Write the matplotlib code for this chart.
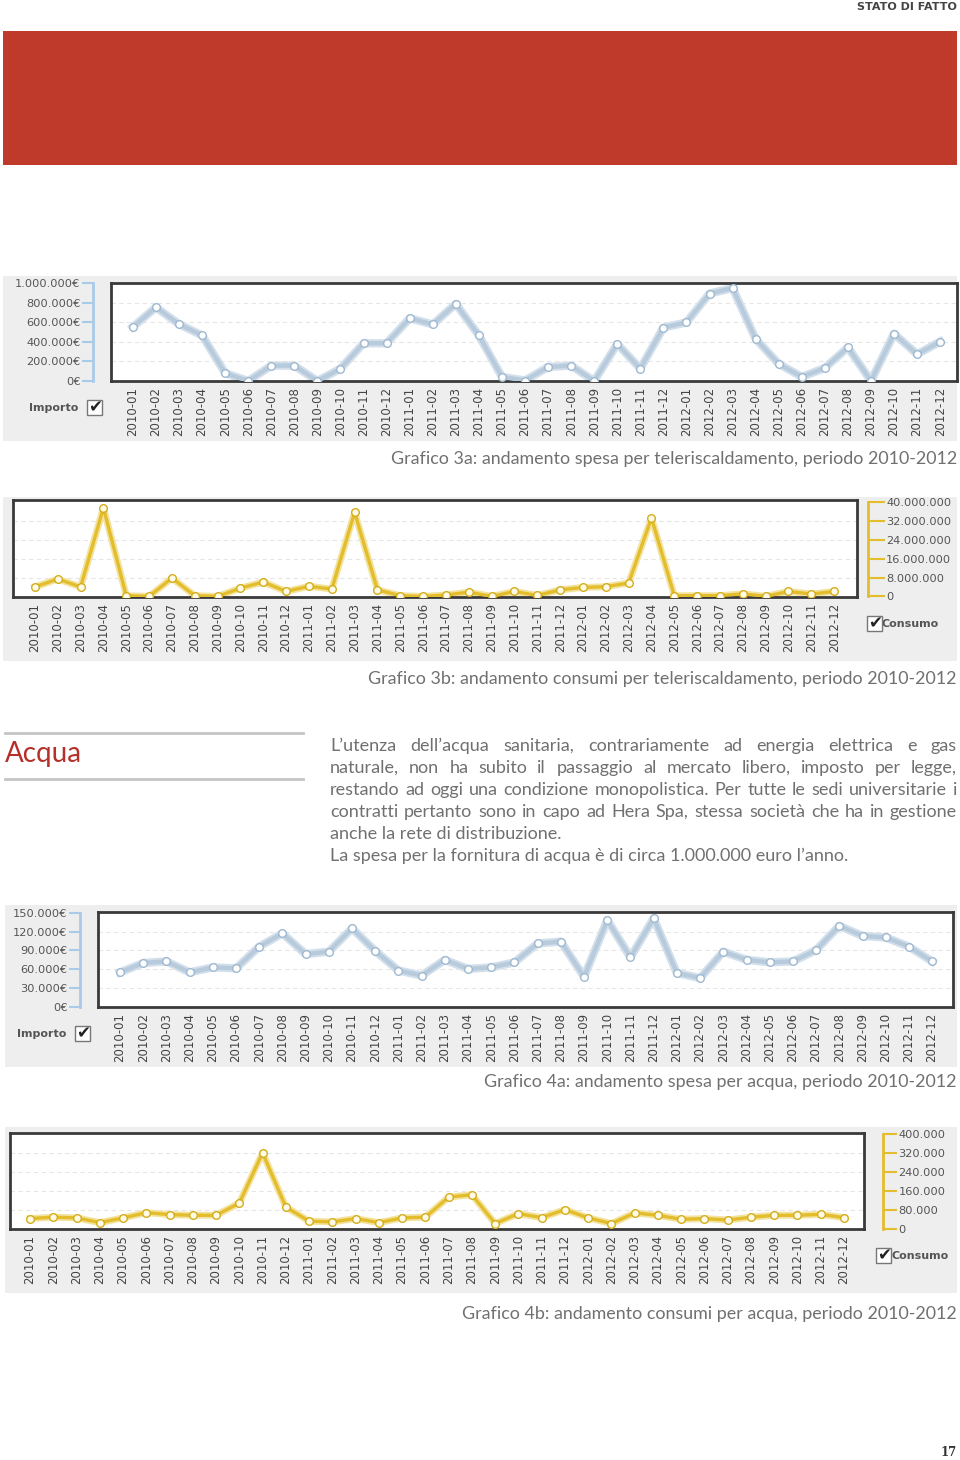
import matplotlib
matplotlib.use('Agg')
import matplotlib.pyplot as plt
from matplotlib.patches import Rectangle
from matplotlib.lines import Line2D

W, H = 960, 1460

# tick labels of the month axis
years = [2010, 2011, 2012]
months = [f'{y}-{m:02d}' for y in years for m in range(1, 13)]

# Grafico 3a: spesa teleriscaldamento (euro)
spesa_teleris = [552000, 752000, 580000, 465000, 80000, 0, 157000, 157000, 0, 126000, 385000, 385000,
                 640000, 577000, 787000, 465000, 42000, 5000, 143000, 157000, 0, 378000, 126000, 545000,
                 598000, 892000, 948000, 430000, 175000, 42000, 133000, 343000, 0, 483000, 273000, 402000]
# Grafico 3b: consumi teleriscaldamento
consumi_teleris = [4.0e6, 7.4e6, 4.0e6, 37.6e6, 0.3e6, 0.0, 7.8e6, 0.3e6, 0.0, 3.5e6, 6.1e6, 2.1e6,
                   4.3e6, 3.1e6, 35.7e6, 2.8e6, 0.3e6, 0.0, 0.6e6, 1.8e6, 0.0, 2.1e6, 0.4e6, 2.8e6,
                   3.8e6, 4.1e6, 5.7e6, 33.3e6, 0.3e6, 0.3e6, 0.3e6, 1.1e6, 0.0, 2.1e6, 1.0e6, 2.1e6]
# Grafico 4a: spesa acqua (euro)
spesa_acqua = [55000, 70000, 72500, 55000, 63000, 61500, 96000, 117000, 84000, 88000, 125000, 89000,
               58000, 50000, 75000, 60500, 63000, 71000, 101000, 104000, 48000, 138000, 79000, 141000,
               54000, 46000, 88000, 75000, 71000, 72500, 90500, 129000, 113000, 110500, 96000, 72500]
# Grafico 4b: consumi acqua
consumi_acqua = [42000, 48000, 45000, 25000, 45000, 67000, 59000, 56000, 56000, 108000, 320000, 91000,
                 31000, 28000, 42000, 25000, 45000, 48000, 133000, 143000, 21000, 63000, 46000, 80000,
                 45000, 21000, 66000, 56000, 39000, 42000, 36000, 48000, 56000, 56000, 60000, 46000]

ticks_3a = [0, 200000, 400000, 600000, 800000, 1000000]
labels_3a = ['0€', '200.000€', '400.000€', '600.000€', '800.000€', '1.000.000€']
ticks_3b = [0, 8e6, 16e6, 24e6, 32e6, 40e6]
labels_3b = ['0', '8.000.000', '16.000.000', '24.000.000', '32.000.000', '40.000.000']
ticks_4a = [0, 30000, 60000, 90000, 120000, 150000]
labels_4a = ['0€', '30.000€', '60.000€', '90.000€', '120.000€', '150.000€']
ticks_4b = [0, 80000, 160000, 240000, 320000, 400000]
labels_4b = ['0', '80.000', '160.000', '240.000', '320.000', '400.000']

captions = ['Grafico 3a: andamento spesa per teleriscaldamento, periodo 2010-2012',
            'Grafico 3b: andamento consumi per teleriscaldamento, periodo 2010-2012',
            'Grafico 4a: andamento spesa per acqua, periodo 2010-2012',
            'Grafico 4b: andamento consumi per acqua, periodo 2010-2012']

body_lines = ['L’utenza dell’acqua sanitaria, contrariamente ad energia elettrica e gas',
              'naturale, non ha subito il passaggio al mercato libero, imposto per legge,',
              'restando ad oggi una condizione monopolistica. Per tutte le sedi universitarie i',
              'contratti pertanto sono in capo ad Hera Spa, stessa società che ha in gestione',
              'anche la rete di distribuzione.',
              'La spesa per la fornitura di acqua è di circa 1.000.000 euro l’anno.']

BLUE_LINE = '#b7cbdd'
BLUE_EDGE = '#9fb9d1'
BLUE_AXIS = '#a9cbea'
GOLD_LINE = '#e3bd2c'
GOLD_EDGE = '#d4ad1c'
TEXT_GREY = '#555555'


def px_rect(x0, y0, x1, y1):
    return [x0 / W, 1 - y1 / H, (x1 - x0) / W, (y1 - y0) / H]


def fx(x):
    return x / W


def fy(y):
    return 1 - y / H


fig = plt.figure(figsize=(W / 100, H / 100), dpi=100)
fig.patch.set_facecolor('white')


def add_rect(x0, y0, x1, y1, z=-5, **kw):
    r = Rectangle((fx(x0), fy(y1)), (x1 - x0) / W, (y1 - y0) / H,
                  transform=fig.transFigure, zorder=z, **kw)
    fig.add_artist(r)


def checkbox(x0, y0, label, label_side):
    add_rect(x0, y0, x0 + 15, y0 + 15, z=5, fc='white', ec='#777777', lw=1)
    fig.text(fx(x0 + 8), fy(y0 + 7), '✔', fontsize=12, color='#222222',
             ha='center', va='center', family='DejaVu Sans', zorder=6)
    if label_side == 'left':
        fig.text(fx(x0 - 9), fy(y0 + 8), label, fontsize=8, fontweight='bold',
                 color='#555555', ha='right', va='center', family='DejaVu Sans')
    else:
        fig.text(fx(x0 + 15), fy(y0 + 8), label, fontsize=8, fontweight='bold',
                 color='#555555', ha='left', va='center', family='DejaVu Sans')


def draw_chart(box, xlim, ylim, values, kind, scale_x, side, ticks, ticklabels, tick_len):
    ax = fig.add_axes(px_rect(*box))
    ax.set_facecolor('white')
    x = list(range(len(values)))
    if kind == 'blue':
        ax.plot(x, values, color='#d3dfea', lw=6, solid_joinstyle='round', zorder=2)
        ax.plot(x, values, color=BLUE_LINE, lw=3.2, marker='o', ms=5.5,
                mfc='white', mec=BLUE_EDGE, mew=1, zorder=3)
    else:
        ax.plot(x, values, color='#f3e3a0', lw=5, solid_joinstyle='round', zorder=2)
        ax.plot(x, values, color=GOLD_LINE, lw=2.4, marker='o', ms=5.5,
                mfc='#fffbe6', mec=GOLD_EDGE, mew=1, zorder=3)
    ax.set_xlim(*xlim)
    ax.set_ylim(*ylim)
    for t in ticks[1:-1]:
        ax.axhline(t, color='#e6e6e6', lw=0.8, ls=(0, (4, 3)), zorder=1)
    ax.set_yticks([])
    ax.set_xticks(x)
    ax.set_xticklabels(months, rotation=90, fontsize=8.5, color='#444444',
                       family='DejaVu Sans')
    ax.tick_params(axis='x', length=0, pad=4.5)
    for s in ax.spines.values():
        s.set_color('#3a3a3a')
        s.set_linewidth(2)

    # separate value scale beside the box
    sa = fig.add_axes(px_rect(scale_x, box[1], scale_x + 0.01, box[3]))
    sa.set_ylim(*ylim)
    sa.set_xticks([])
    sa.patch.set_alpha(0)
    for s in sa.spines.values():
        s.set_visible(False)
    color = BLUE_AXIS if kind == 'blue' else GOLD_LINE
    sa.spines[side].set_visible(True)
    sa.spines[side].set_color(color)
    sa.spines[side].set_linewidth(2)
    sa.spines[side].set_bounds(ticks[0], ticks[-1])
    sa.yaxis.set_ticks_position(side)
    sa.set_yticks(ticks)
    sa.set_yticklabels(ticklabels, fontsize=8.2, color=TEXT_GREY, family='DejaVu Sans')
    sa.tick_params(axis='y', length=tick_len, width=1.5, color=color, pad=1)
    return ax


# header and red banner
fig.text(fx(957), fy(7), 'STATO DI FATTO', fontsize=8, fontweight='bold', color='#444444',
         ha='right', va='center', family='DejaVu Sans')
add_rect(3, 31, 957, 165, fc='#bf3a2b', ec='none')

# panels
add_rect(3, 276, 957, 441, fc='#eeeeee', ec='none')
add_rect(3, 497, 957, 661, fc='#eeeeee', ec='none')
add_rect(5, 905, 957, 1067, fc='#eeeeee', ec='none')
add_rect(5, 1127, 957, 1293, fc='#eeeeee', ec='none')

# Grafico 3a
draw_chart((111, 283, 957, 381), (-0.95, 35.73), (0, 1000000), spesa_teleris, 'blue',
           93, 'left', ticks_3a, labels_3a, 8)
checkbox(87, 400, 'Importo', 'left')

# Grafico 3b
draw_chart((13, 500, 857, 597), (-0.96, 36.0), (-0.25e6, 40.9e6), consumi_teleris, 'gold',
           868, 'right', ticks_3b, labels_3b, 12)
checkbox(867, 616, 'Consumo', 'right')

# Grafico 4a
draw_chart((98, 912, 953, 1007), (-0.95, 35.9), (0, 151000), spesa_acqua, 'blue',
           80, 'left', ticks_4a, labels_4a, 8)
checkbox(75, 1026, 'Importo', 'left')

# Grafico 4b
draw_chart((10, 1133, 864, 1229), (-0.86, 35.86), (-2000, 404000), consumi_acqua, 'gold',
           883, 'right', ticks_4b, labels_4b, 10)
checkbox(876, 1248, 'Consumo', 'right')

# captions
for cap, yc in zip(captions, [459, 679, 1082, 1314]):
    fig.text(fx(957), fy(yc), cap, fontsize=12.9, color='#707070', ha='right', va='center',
             family='Lato')

# Acqua section
fig.add_artist(Line2D([fx(5), fx(303)], [fy(733), fy(733)], color='#c4c4c4', lw=2,
                      transform=fig.transFigure))
fig.add_artist(Line2D([fx(5), fx(303)], [fy(779), fy(779)], color='#c4c4c4', lw=2,
                      transform=fig.transFigure))
fig.text(fx(5), fy(754), 'Acqua', fontsize=20, color='#b5302a', ha='left', va='center',
         family='Lato')

renderer = fig.canvas.get_renderer()
body_kw = dict(fontsize=13, color='#707070', ha='left', va='center', family='Lato')
for i, line in enumerate(body_lines):
    y = 746 + 22 * i
    if i in (4, 5):
        fig.text(fx(330), fy(y), line, **body_kw)
        continue
    words = line.split(' ')
    texts = [fig.text(0, 0, w, **body_kw) for w in words]
    widths = [t.get_window_extent(renderer).width for t in texts]
    gap = (957 - 330 - sum(widths)) / (len(words) - 1)
    xpos = 330
    for t, w in zip(texts, widths):
        t.set_position((fx(xpos), fy(y)))
        xpos += w + gap

# page number
fig.text(fx(957), fy(1453), '17', fontsize=8.5, fontweight='bold', color='#333333',
         ha='right', va='center', family='DejaVu Serif')

fig.savefig('out.png', dpi=100)
